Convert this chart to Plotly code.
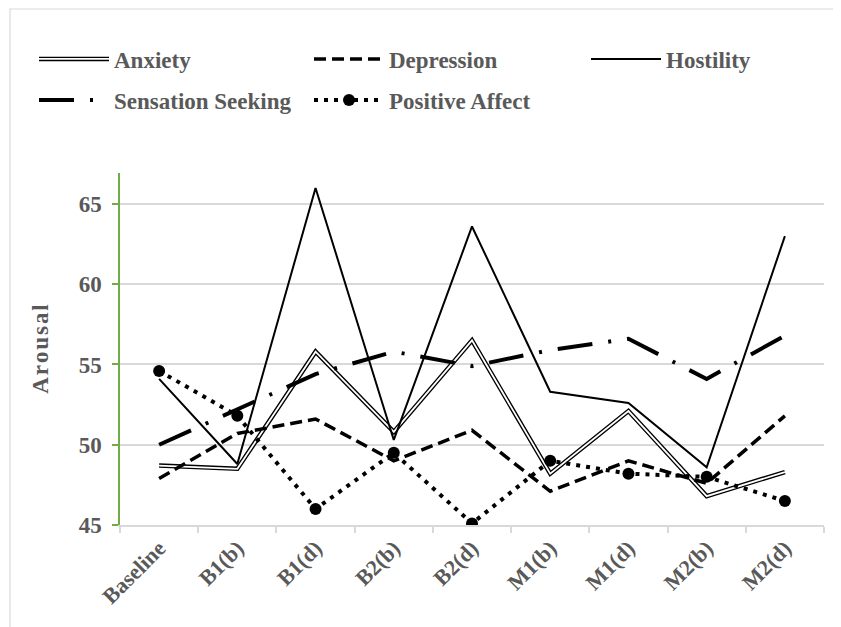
import plotly.graph_objects as go

categories = ["Baseline", "B1(b)", "B1(d)", "B2(b)", "B2(d)", "M1(b)", "M1(d)", "M2(b)", "M2(d)"]
anxiety = [48.7, 48.5, 55.8, 50.8, 56.5, 48.2, 52.1, 46.8, 48.3]
depression = [47.9, 50.7, 51.6, 49.0, 50.9, 47.1, 49.0, 47.6, 51.8]
hostility = [54.1, 48.8, 66.0, 50.3, 63.6, 53.3, 52.6, 48.6, 63.0]
sensation = [50.0, 52.2, 54.4, 55.8, 54.9, 55.9, 56.6, 54.1, 56.8]
positive = [54.6, 51.8, 46.0, 49.5, 45.1, 49.0, 48.2, 48.0, 46.5]
y_ticks = [45, 50, 55, 60, 65]

FONT = "Liberation Serif"
GRAY = "#595959"
W, H = 833, 619

fig = go.Figure()

# Anxiety: double line (black outer, white inner)
fig.add_trace(go.Scatter(x=categories, y=anxiety, mode="lines", name="<b>Anxiety</b>",
                         line=dict(color="black", width=4.5), legend="legend"))
fig.add_trace(go.Scatter(x=categories, y=anxiety, mode="lines", name=" ",
                         line=dict(color="white", width=1.8), legend="legend4", hoverinfo="skip"))
fig.add_trace(go.Scatter(x=categories, y=depression, mode="lines", name="<b>Depression</b>",
                         line=dict(color="black", width=3.5, dash="12px,6px"), legend="legend"))
fig.add_trace(go.Scatter(x=categories, y=hostility, mode="lines", name="<b>Hostility</b>",
                         line=dict(color="black", width=2), legend="legend3"))
fig.add_trace(go.Scatter(x=categories, y=sensation, mode="lines", name="<b>Sensation Seeking</b>",
                         line=dict(color="black", width=4, dash="35px,16px,3px,16px"), legend="legend2"))
fig.add_trace(go.Scatter(x=categories, y=positive, mode="lines+markers", name="<b>Positive Affect</b>",
                         line=dict(color="black", width=4, dash="4px,6px"),
                         marker=dict(symbol="circle", size=12, color="black"), legend="legend2"))


def leg(x, y, ew=190):
    return dict(orientation="h", xref="container", yref="container",
                x=x / W, y=1 - y / H, xanchor="left", yanchor="middle", itemwidth=70,
                entrywidth=ew, entrywidthmode="pixels",
                font=dict(family=FONT, size=23, color=GRAY),
                bgcolor="rgba(0,0,0,0)", itemclick=False, itemdoubleclick=False)


fig.update_layout(
    width=W, height=H,
    margin=dict(l=112, r=17, t=165, b=102),
    paper_bgcolor="white", plot_bgcolor="white",
    font=dict(family=FONT, size=22, color=GRAY),
    legend=leg(26, 51),
    legend2=leg(26, 92),
    legend3=leg(578, 51, 0),
    legend4=leg(26, 51, 0),
    xaxis=dict(type="category", range=[-0.5, 8.5], tickson="boundaries",
               ticks="outside", ticklen=6, tickcolor="#D9D9D9", tickwidth=1.5,
               showline=True, linecolor="#D9D9D9", linewidth=1.5,
               showgrid=False, tickangle=-45,
               tickfont=dict(family=FONT, size=22, color=GRAY, weight="bold")),
    yaxis=dict(range=[45, 66.93], tickvals=y_ticks,
               ticks="outside", ticklen=6, tickcolor="#70AD47", tickwidth=1.5,
               showline=True, linecolor="#70AD47", linewidth=1.5,
               showgrid=True, gridcolor="#D9D9D9", gridwidth=1.5, zeroline=False,
               ticklabelstandoff=6,
               tickfont=dict(family=FONT, size=23, color=GRAY, weight="bold"),
               title=dict(text="<b>A r o u s a l</b>".replace(" ", "\u200a"), standoff=24,
                          font=dict(family=FONT, size=23, color=GRAY))),
    shapes=[dict(type="rect", xref="paper", yref="paper",
                 x0=(2 - 112) / 704, x1=(860 - 112) / 704,
                 y0=(517 - 660) / 352, y1=(517 - 1) / 352,
                 line=dict(color="#D9D9D9", width=1.2), fillcolor="rgba(0,0,0,0)",
                 layer="below")],
)

fig.write_html("out.html")
